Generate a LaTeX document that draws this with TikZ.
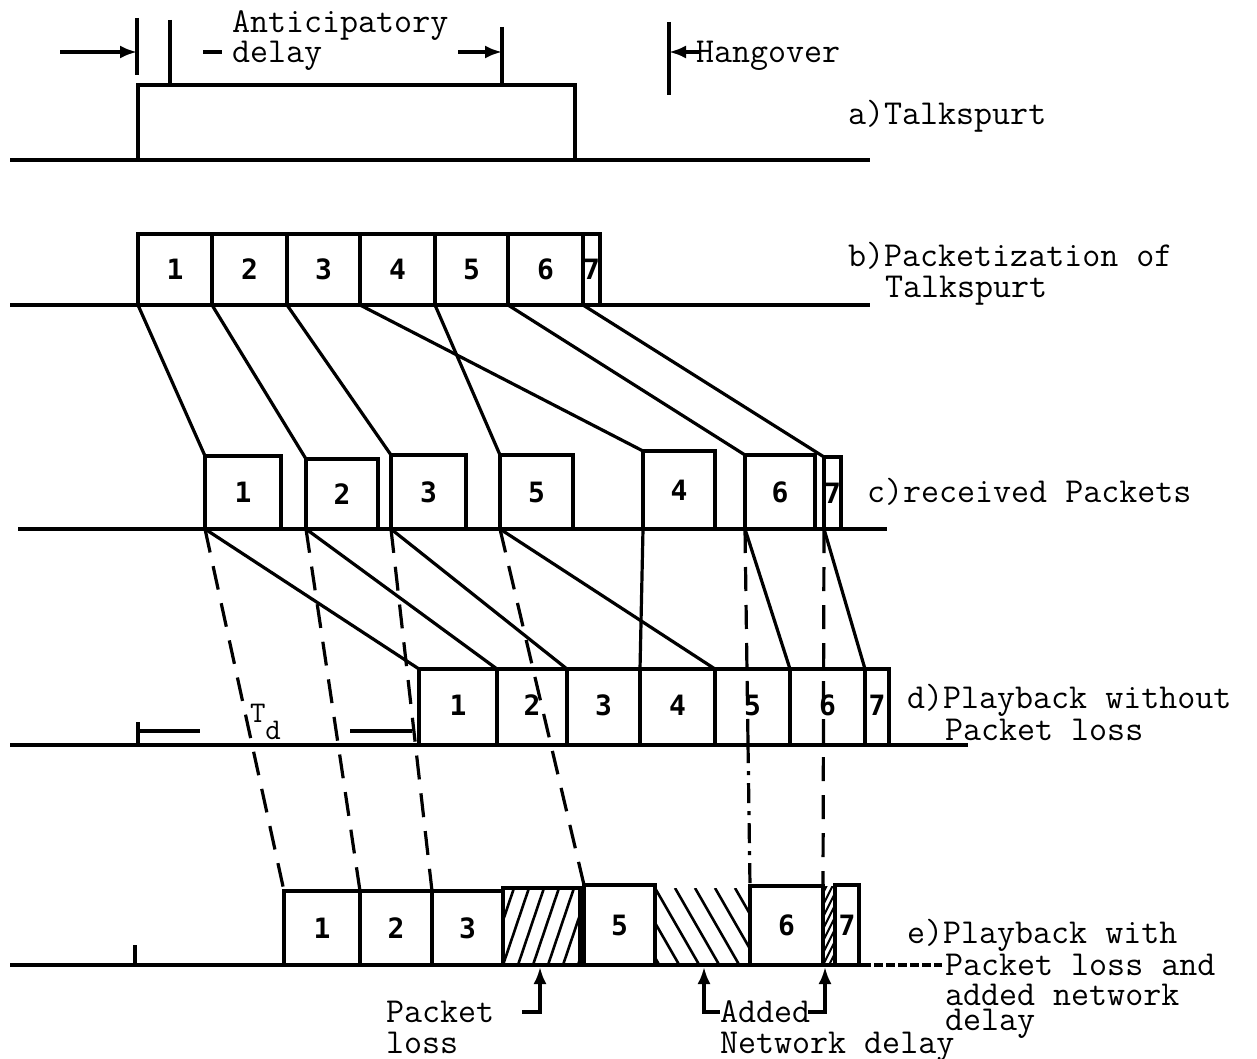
\documentclass[tikz,border=0pt]{standalone}
\usepackage{fontspec}
\setmainfont{Liberation Mono}
\newfontfamily\digitfont{DejaVu Sans Mono}
\usetikzlibrary{arrows.meta,calc}
\newcommand\mkpkt[7][]{%
  \node[pkt,#1,minimum width={(#4-#3)*1pt},minimum height={(#6-#5)*1pt}] (#2) at ({(#3+#4)/2},{(#5+#6)/2}) {#7};}
\begin{document}
\begin{tikzpicture}[x=1pt,y=-1pt,
  every node/.style={inner sep=0pt,outer sep=0pt},
  ink/.style={line width=3.2pt},
  pkt/.style={draw,line width=3.2pt,font=\digitfont\bfseries\fontsize{28}{28}\selectfont},
  nobox/.style={draw=none},
  lbl/.style={anchor=base west,font=\ttfamily\fontsize{35}{36}\selectfont},
  dsh/.style={ink,dash pattern=on 24pt off 14pt},
  dshdot/.style={ink,dash pattern=on 20pt off 8pt on 4pt off 8pt},
  arr/.style={ink,-{Latex[length=17pt,width=13pt]}},
  hatchR/.style={path picture={\foreach \k in {-8,...,8}{\draw[line width=2.6pt] ([xshift=\k*15pt]path picture bounding box.south west) -- ++(27pt,80pt);}}},
  hatchL/.style={path picture={\foreach \k in {-6,...,8}{\draw[line width=2.6pt] ([xshift=\k*20pt]path picture bounding box.north west) -- ++(46pt,-80pt);}}},
  hatchS/.style={path picture={\foreach \k in {-20,...,3}{\draw[line width=2pt] ([xshift=\k*6pt]path picture bounding box.south west) -- ++(50pt,100pt);}}},
]
\useasboundingbox (0,0) rectangle (1257,1059);

% ---------- a) talkspurt ----------
\coordinate (aL) at (10,160); \coordinate (aR) at (870,160);
\draw[ink] (aL) -- (aR);
\node[draw,ink,minimum width=437pt,minimum height=75pt] (ta) at (356.5,122.5) {};
\coordinate (k1t) at (137,18);  \coordinate (k1b) at (137,75);
\coordinate (k2t) at (170,20);  \coordinate (k2b) at (170,85);
\coordinate (k3t) at (502,27);  \coordinate (k3b) at (502,85);
\coordinate (k4t) at (669,22);  \coordinate (k4b) at (669,95);
\draw[ink] (k1t) -- (k1b);
\draw[ink] (k2t) -- (k2b);
\draw[ink] (k3t) -- (k3b);
\draw[ink] (k4t) -- (k4b);
\coordinate (a1s) at (60,52);  \draw[arr] (a1s) -- (k1t |- a1s);
\coordinate (d1s) at (203,52); \coordinate (d1e) at (222,52); \draw[ink] (d1s) -- (d1e);
\coordinate (a2s) at (458,52); \draw[arr] (a2s) -- (k3t |- a2s);
\coordinate (a3s) at (700,52); \draw[arr] (a3s) -- (k4t |- a3s);
\node[lbl] (ant) at (232,33) {Anticipatory};
\node[lbl] (del) at (232,63) {delay};
\node[lbl] (hang) at (696,63) {Hangover};
\node[lbl] (la) at (848,125) {a)Talkspurt};

% ---------- b) packetization ----------
\coordinate (bL) at (10,305); \coordinate (bR) at (870,305);
\draw[ink] (bL) -- (bR);
\mkpkt{b1}{138}{212}{234}{305}{1}
\mkpkt{b2}{212}{287}{234}{305}{2}
\mkpkt{b3}{287}{360}{234}{305}{3}
\mkpkt{b4}{360}{435}{234}{305}{4}
\mkpkt{b5}{435}{508}{234}{305}{5}
\mkpkt{b6}{508}{583}{234}{305}{6}
\mkpkt{b7}{583}{600}{234}{305}{7}
\node[lbl] (lb1) at (848,266) {b)Packetization of};
\node[lbl] (lb2) at (885,297) {Talkspurt};

% ---------- c) received ----------
\coordinate (cL) at (18,529); \coordinate (cR) at (887,529);
\draw[ink] (cL) -- (cR);
\mkpkt{c1}{205}{281}{456}{529}{1}
\mkpkt{c2}{306}{378}{459}{529}{2}
\mkpkt{c3}{391}{466}{455}{529}{3}
\mkpkt{c5}{500}{573}{455}{529}{5}
\mkpkt{c4}{643}{715}{451}{529}{4}
\mkpkt{c6}{745}{815}{455}{529}{6}
\mkpkt{c7}{824}{841}{457}{529}{7}
\node[lbl] (lc) at (867,502) {c)received Packets};

% ---------- d) playback without loss ----------
\coordinate (dL) at (10,745); \coordinate (dR) at (968,745);
\draw[ink] (dL) -- (dR);
\mkpkt{d1}{419}{497}{669}{745}{\raisebox{4pt}{1}}
\mkpkt{d2}{497}{567}{669}{745}{\raisebox{4pt}{2}}
\mkpkt{d3}{567}{640}{669}{745}{\raisebox{4pt}{3}}
\mkpkt{d4}{640}{715}{669}{745}{\raisebox{4pt}{4}}
\mkpkt{d5}{715}{790}{669}{745}{\raisebox{4pt}{5}}
\mkpkt{d6}{790}{865}{669}{745}{\raisebox{4pt}{6}}
\mkpkt{d7}{865}{889}{669}{745}{\raisebox{4pt}{7}}
\node[lbl] (ld1) at (907,708) {d)Playback without};
\node[lbl] (ld2) at (945,740) {Packet loss};
% T_d
\coordinate (tdA) at (138,722); \coordinate (tdB) at (138,745);
\draw[ink] (tdA) -- (tdB);
\coordinate (td1) at (138,731); \coordinate (td2) at (200,731);
\coordinate (td3) at (350,731); \coordinate (td4) at (412,731);
\draw[ink] (td1) -- (td2);
\draw[ink] (td3) -- (td4);
\node[anchor=base west,font=\ttfamily\fontsize{30}{30}\selectfont] (td) at (250,722) {T\raisebox{-17pt}{d}};

% ---------- e) playback with loss ----------
\coordinate (eL) at (10,965); \coordinate (eM) at (862,965); \coordinate (eR) at (942,965);
\draw[ink] (eL) -- (eM);
\draw[ink,dash pattern=on 9pt off 3pt] (eM) -- (eR);
\coordinate (ekt) at (135,945); \coordinate (ekb) at (135,965);
\draw[ink] (ekt) -- (ekb);
\mkpkt{e1}{284}{360}{891}{965}{\raisebox{-5pt}{1}}
\mkpkt{e2}{360}{432}{891}{965}{\raisebox{-5pt}{2}}
\mkpkt{e3}{432}{503}{891}{965}{\raisebox{-5pt}{3}}
\mkpkt[hatchR]{e4}{503}{580}{888}{965}{}
\mkpkt{e5}{584}{655}{885}{965}{\raisebox{-5pt}{5}}
\mkpkt[nobox,hatchL]{ed}{655}{750}{888}{965}{}
\mkpkt{e6}{750}{823}{886}{965}{\raisebox{-5pt}{6}}
\mkpkt[nobox,hatchS]{e7d}{823}{835}{886}{965}{}
\mkpkt{e7}{835}{859}{885}{965}{\raisebox{-5pt}{7}}
\node[lbl] (le1) at (907,943) {e)Playback with};
\node[lbl] (le2) at (945,975) {Packet loss and};
\node[lbl] (le3) at (945,1005) {added network};
\node[lbl] (le4) at (945,1030) {delay};

% ---------- connectors b -> c ----------
\foreach \i in {1,...,7}{\draw[ink] (b\i.south west) -- (c\i.north west);}
% ---------- connectors c -> d ----------
\foreach \i in {1,...,7}{\draw[ink] (c\i.south west) -- (d\i.north west);}
% ---------- connectors c -> e (dashed) ----------
\foreach \i in {1,2,3,5}{\draw[dsh] (c\i.south west) -- (e\i.north west);}
\coordinate (m6) at ($(c6.south west)!0.6!(e6.north west)$);
\draw[dsh] (c6.south west) -- (m6);
\draw[dshdot] (m6) -- (e6.north west);
\draw[dsh] (c7.south west) -- (e7d.north west);

% ---------- bottom annotations ----------
\coordinate (pl1) at (522,1012); \coordinate (pl2) at (540,1012); \coordinate (pl3) at (540,967);
\draw[arr] (pl1) -- (pl2) -- (pl3);
\coordinate (ad1) at (720,1012); \coordinate (ad2) at (704,1012); \coordinate (ad3) at (704,967);
\draw[arr] (ad1) -- (ad2) -- (ad3);
\coordinate (ad4) at (808,1012); \coordinate (ad5) at (825,1012); \coordinate (ad6) at (825,967);
\draw[arr] (ad4) -- (ad5) -- (ad6);
\node[lbl] (pk1) at (386,1022) {Packet};
\node[lbl] (pk2) at (386,1053) {loss};
\node[lbl] (nd1) at (720,1022) {Added};
\node[lbl] (nd2) at (720,1053) {Network delay};
\end{tikzpicture}
\end{document}
